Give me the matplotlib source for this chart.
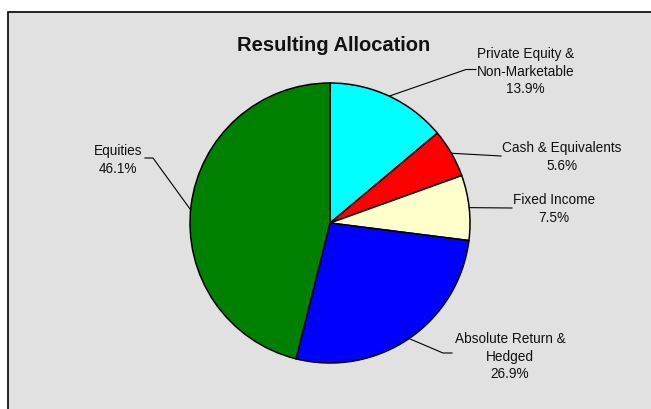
import numpy as np
import matplotlib
matplotlib.use('Agg')
import matplotlib.pyplot as plt
from matplotlib.patches import Rectangle

plt.rcParams['font.family'] = ['Liberation Sans', 'DejaVu Sans']

#DATA
categories = ['Private Equity &\nNon-Marketable', 'Cash & Equivalents', 'Fixed Income',
              'Absolute Return &\nHedged', 'Equities']
shares = [13.9, 5.6, 7.5, 26.9, 46.1]
colors = ['#00FFFF', '#FF0000', '#FFFFCC', '#0000FF', '#008000']

W, H = 651, 409
fig = plt.figure(figsize=(W / 100, H / 100), dpi=100)

# grey chart area with border (cut off at right / bottom)
fig.patches.append(Rectangle((8 / W, -0.05), 1.0, (H - 12) / H + 0.05, transform=fig.transFigure,
                             facecolor='#e1e1e1', edgecolor='black', linewidth=1.2, zorder=-10))

# pie axes, centre (330,223) px from top, radius 140 px
ax = fig.add_axes([190 / W, (H - 223 - 140) / H, 280 / W, 280 / H])
wedges, _ = ax.pie(shares, colors=colors, startangle=90, counterclock=False, radius=1,
                   wedgeprops=dict(edgecolor='black', linewidth=1.1))
ax.set_xlim(-1, 1)
ax.set_ylim(-1, 1)
ax.set_aspect('equal')
ax.axis('off')

# overlay in pixel coords (y from top)
ov = fig.add_axes([0, 0, 1, 1], facecolor='none')
ov.set_xlim(0, W)
ov.set_ylim(H, 0)
ov.axis('off')

ov.text(334, 45.5, 'Resulting Allocation', ha='center', va='center', fontsize=14.5,
        fontweight='bold', color='#111111')

# label layout: text centre, leader path end points
text_pos = [(525.5, 71.5), (562, 157), (554, 209), (510, 356.5), (118, 160)]
leader_pts = [[(466, 69.5), (476, 69.5)], [(501, 156)], [(512, 208)],
              [(443, 353), (452, 353)], [(153, 158), (145, 158)]]
anchor_override = {4: 174.6}

for i, (w, cat, val) in enumerate(zip(wedges, categories, shares)):
    ang = anchor_override.get(i, (w.theta1 + w.theta2) / 2)
    a = np.deg2rad(ang)
    px = ax.transData.transform((np.cos(a), np.sin(a)))
    sx, sy = ov.transData.inverted().transform(px)
    xs = [sx] + [p[0] for p in leader_pts[i]]
    ys = [sy] + [p[1] for p in leader_pts[i]]
    ov.plot(xs, ys, color='black', linewidth=0.8)
    tx, ty = text_pos[i]
    ov.text(tx, ty, '%s\n%.1f%%' % (cat, val), ha='center', va='center', fontsize=9.8,
            color='#111111', linespacing=1.3)

fig.savefig('out.png', dpi=100)
